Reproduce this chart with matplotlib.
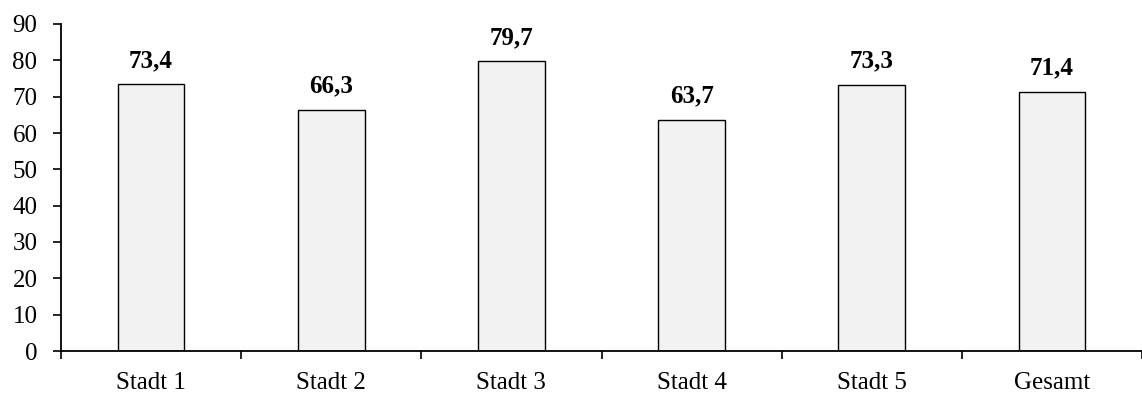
import matplotlib
matplotlib.use("Agg")
import matplotlib.pyplot as plt
import numpy as np

categories = ["Stadt 1", "Stadt 2", "Stadt 3", "Stadt 4", "Stadt 5", "Gesamt"]
values = [73.4, 66.3, 79.7, 63.7, 73.3, 71.4]
value_labels = ["73,4", "66,3", "79,7", "63,7", "73,3", "71,4"]
yticks = [0, 10, 20, 30, 40, 50, 60, 70, 80, 90]

plt.rcParams['font.family'] = ['Liberation Serif', 'DejaVu Serif']

W, H = 1142, 394
fig = plt.figure(figsize=(W / 100, H / 100), dpi=100)
left, right, bottom, top = 61, 1142, 351, 24
ax = fig.add_axes([left / W, (H - bottom) / H, (right - left) / W, (bottom - top) / H])

x = np.arange(len(categories))
ax.bar(x, values, width=0.37, color="#f2f2f2", edgecolor="black", linewidth=1.0, zorder=2)

for xi, v, lab in zip(x, values, value_labels):
    ax.annotate(lab, (xi, v), xytext=(0, 9), textcoords="offset points",
                ha="center", va="bottom", fontsize=18, fontweight="bold")

ax.set_xlim(-0.5, -0.5 + (right - left) / 181)
ax.set_ylim(0, 90)
ax.set_yticks(yticks)
ax.set_yticklabels([str(t) for t in yticks], fontsize=18)

ax.set_xticks(np.arange(len(categories) + 1) - 0.5)
ax.set_xticklabels([])
ax.set_xticks(x, minor=True)
ax.set_xticklabels(categories, minor=True, fontsize=18)
ax.tick_params(axis="x", which="major", direction="out", length=5.5, width=1.2)
ax.tick_params(axis="x", which="minor", length=0, pad=15)
ax.tick_params(axis="y", direction="out", length=6, width=1.2, pad=11)

for s in ["top", "right"]:
    ax.spines[s].set_visible(False)
for s in ["left", "bottom"]:
    ax.spines[s].set_linewidth(1.3)

fig.savefig("out.png", dpi=100)
